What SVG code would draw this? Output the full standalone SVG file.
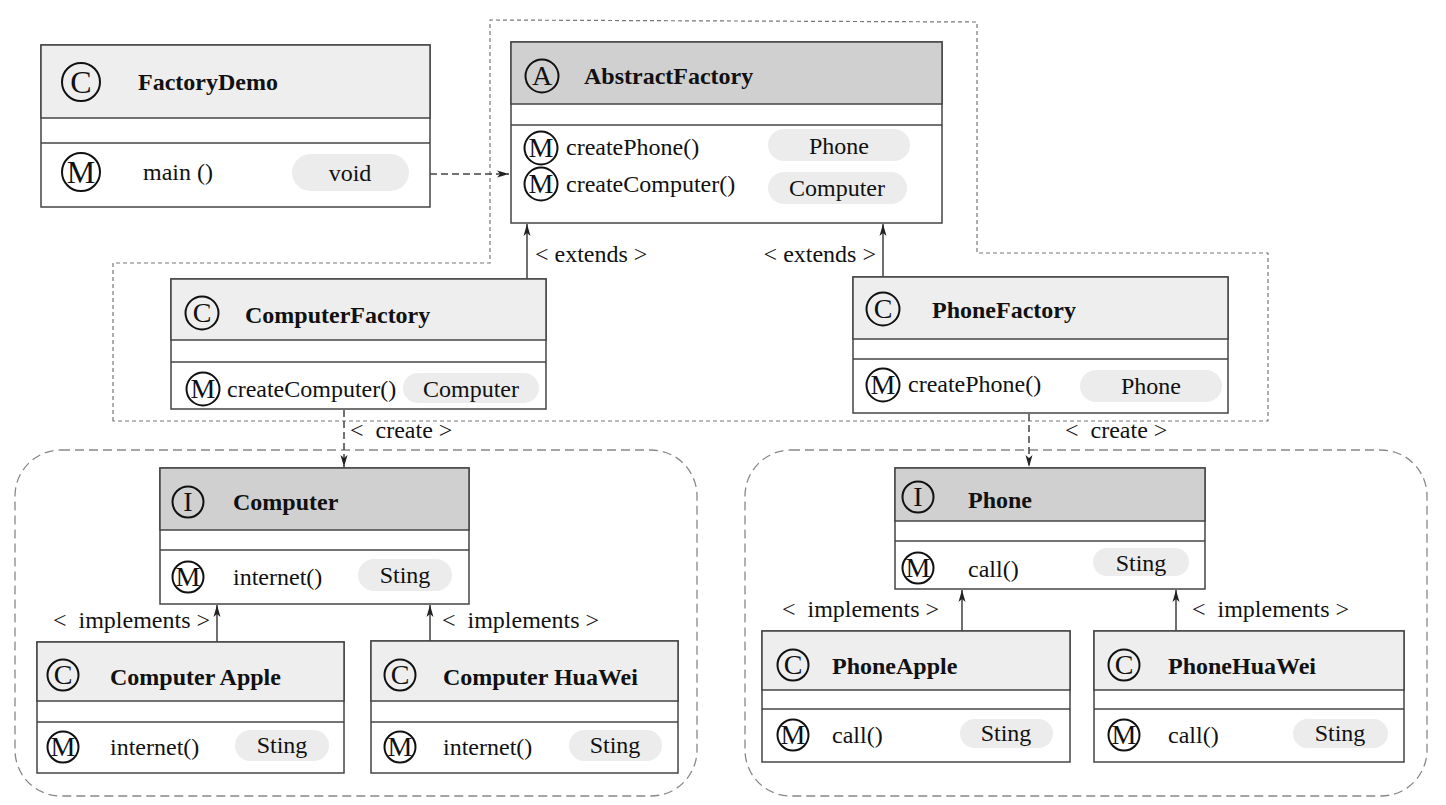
<svg xmlns="http://www.w3.org/2000/svg" width="1446" height="805" viewBox="0 0 1446 805">
<style>
text{font-family:"Liberation Serif","Times New Roman",serif;font-size:24px;fill:#111}
.t{font-weight:bold}
.c{text-anchor:middle}
.g{text-anchor:middle;font-size:28px}
.gb{text-anchor:middle;font-size:32px}
.lbl{white-space:pre}
.box{fill:#fff;stroke:#444;stroke-width:1.5}
.hl{fill:#eeeeee;stroke:#444;stroke-width:1.5}
.hd{fill:#d0d0d0;stroke:#444;stroke-width:1.5}
.sep{stroke:#444;stroke-width:1.5}
.ic{fill:none;stroke:#111;stroke-width:2}
.pill{fill:#ececec}
.grp{fill:none;stroke:#888;stroke-width:1.3;stroke-dasharray:9 5}
.dot{fill:none;stroke:#777;stroke-width:1.2;stroke-dasharray:4 3}
.sol{fill:none;stroke:#222;stroke-width:1.3}
.dsh{fill:none;stroke:#444;stroke-width:1.5;stroke-dasharray:7 4}
</style>
<defs>
<marker id="arr" viewBox="0 0 12 10" refX="12" refY="5" markerWidth="12" markerHeight="10" markerUnits="userSpaceOnUse" orient="auto">
<path d="M0,1.5 L12,5 L0,8.5 L3,5 z" fill="#222"/>
</marker>
</defs>
<g id="containers">
<path class="dot" d="M113,421 L113,263 L490,263 L490,20 L977,22 L977,253 L1268,253 L1268,421 Z"/>
<rect class="grp" x="15" y="450" width="682" height="346" rx="46"/>
<rect class="grp" x="745" y="450" width="682" height="346" rx="46"/>
</g>
<g id="connectors">
<path class="dsh" d="M430,174 L509,174" marker-end="url(#arr)"/>
<path class="sol" d="M527,279 L527,224" marker-end="url(#arr)"/>
<text x="535" y="262">&lt; extends &gt;</text>
<path class="sol" d="M883,277 L883,224" marker-end="url(#arr)"/>
<text x="876" y="262" text-anchor="end">&lt; extends &gt;</text>
<path class="dsh" d="M344,410 L344,467" marker-end="url(#arr)"/>
<text class="lbl" x="350" y="438">&lt;  create &gt;</text>
<path class="dsh" d="M1029,414 L1029,467" marker-end="url(#arr)"/>
<text class="lbl" x="1065" y="438">&lt;  create &gt;</text>
<path class="sol" d="M217,642 L217,605" marker-end="url(#arr)"/>
<text class="lbl" x="53" y="628">&lt;  implements &gt;</text>
<path class="sol" d="M430,641 L430,605" marker-end="url(#arr)"/>
<text class="lbl" x="442" y="628">&lt;  implements &gt;</text>
<path class="sol" d="M962,631 L962,590" marker-end="url(#arr)"/>
<text class="lbl" x="782" y="617">&lt;  implements &gt;</text>
<path class="sol" d="M1176,631 L1176,590" marker-end="url(#arr)"/>
<text class="lbl" x="1192" y="617">&lt;  implements &gt;</text>
</g>
<g id="FactoryDemo">
<rect class="box" x="41" y="45" width="389" height="162"/>
<rect class="hl" x="41" y="45" width="389" height="73"/>
<line class="sep" x1="41" y1="143" x2="430" y2="143"/>
<circle class="ic" cx="81" cy="82" r="19"/><text class="gb" x="81" y="93">C</text>
<text class="t" x="138" y="90">FactoryDemo</text>
<circle class="ic" cx="81" cy="172" r="19"/><text class="gb" x="81" y="183">M</text>
<text x="143" y="180">main ()</text>
<rect class="pill" x="292" y="154" width="117" height="37" rx="18.5"/>
<text class="c" x="350" y="181">void</text>
</g>
<g id="AbstractFactory">
<rect class="box" x="511" y="42" width="431" height="181"/>
<rect class="hd" x="511" y="42" width="431" height="62"/>
<line class="sep" x1="511" y1="125" x2="942" y2="125"/>
<circle class="ic" cx="542" cy="76" r="16.5"/><text class="g" x="542" y="85">A</text>
<text class="t" x="584" y="84">AbstractFactory</text>
<circle class="ic" cx="541" cy="148" r="16.5"/><text class="g" x="541" y="157">M</text>
<text x="566" y="155">createPhone()</text>
<rect class="pill" x="768" y="129" width="142" height="32" rx="16"/>
<text class="c" x="839" y="154">Phone</text>
<circle class="ic" cx="541" cy="184" r="16.5"/><text class="g" x="541" y="193">M</text>
<text x="566" y="192">createComputer()</text>
<rect class="pill" x="768" y="172" width="139" height="32" rx="16"/>
<text class="c" x="837" y="196">Computer</text>
</g>
<g id="ComputerFactory">
<rect class="box" x="171" y="279" width="375" height="130"/>
<rect class="hl" x="171" y="279" width="375" height="61"/>
<line class="sep" x1="171" y1="362" x2="546" y2="362"/>
<circle class="ic" cx="202" cy="313" r="16.5"/><text class="g" x="202" y="322">C</text>
<text class="t" x="245" y="323">ComputerFactory</text>
<circle class="ic" cx="203" cy="389" r="16.5"/><text class="g" x="203" y="398">M</text>
<text x="227" y="397">createComputer()</text>
<rect class="pill" x="403" y="373" width="136" height="30" rx="15"/>
<text class="c" x="471" y="397">Computer</text>
</g>
<g id="PhoneFactory">
<rect class="box" x="853" y="277" width="375" height="136"/>
<rect class="hl" x="853" y="277" width="375" height="62"/>
<line class="sep" x1="853" y1="359" x2="1228" y2="359"/>
<circle class="ic" cx="883" cy="309" r="16.5"/><text class="g" x="883" y="318">C</text>
<text class="t" x="932" y="318">PhoneFactory</text>
<circle class="ic" cx="883" cy="385" r="16.5"/><text class="g" x="883" y="394">M</text>
<text x="908" y="392">createPhone()</text>
<rect class="pill" x="1080" y="370" width="142" height="32" rx="16"/>
<text class="c" x="1151" y="394">Phone</text>
</g>
<g id="Computer">
<rect class="box" x="160" y="468" width="309" height="136"/>
<rect class="hd" x="160" y="468" width="309" height="62"/>
<line class="sep" x1="160" y1="550" x2="469" y2="550"/>
<circle class="ic" cx="188" cy="502" r="15.5"/><text class="g" x="188" y="511">I</text>
<text class="t" x="233" y="510">Computer</text>
<circle class="ic" cx="188" cy="577" r="15.5"/><text class="g" x="188" y="586">M</text>
<text x="233" y="585">internet()</text>
<rect class="pill" x="358" y="559" width="94" height="32" rx="16"/>
<text class="c" x="405" y="583">Sting</text>
</g>
<g id="ComputerApple">
<rect class="box" x="37" y="642" width="307" height="131"/>
<rect class="hl" x="37" y="642" width="307" height="59"/>
<line class="sep" x1="37" y1="722" x2="344" y2="722"/>
<circle class="ic" cx="63" cy="675" r="15.5"/><text class="g" x="63" y="684">C</text>
<text class="t" x="110" y="685">Computer Apple</text>
<circle class="ic" cx="63" cy="747" r="15.5"/><text class="g" x="63" y="756">M</text>
<text x="110" y="755">internet()</text>
<rect class="pill" x="235" y="730" width="94" height="31" rx="15.5"/>
<text class="c" x="282" y="753">Sting</text>
</g>
<g id="ComputerHuaWei">
<rect class="box" x="371" y="641" width="307" height="132"/>
<rect class="hl" x="371" y="641" width="307" height="60"/>
<line class="sep" x1="371" y1="722" x2="678" y2="722"/>
<circle class="ic" cx="400" cy="675" r="15.5"/><text class="g" x="400" y="684">C</text>
<text class="t" x="443" y="685">Computer HuaWei</text>
<circle class="ic" cx="400" cy="747" r="15.5"/><text class="g" x="400" y="756">M</text>
<text x="443" y="755">internet()</text>
<rect class="pill" x="569" y="730" width="93" height="31" rx="15.5"/>
<text class="c" x="615" y="753">Sting</text>
</g>
<g id="Phone">
<rect class="box" x="895" y="468" width="310" height="121"/>
<rect class="hd" x="895" y="468" width="310" height="53"/>
<line class="sep" x1="895" y1="541" x2="1205" y2="541"/>
<circle class="ic" cx="918" cy="497" r="15.5"/><text class="g" x="918" y="506">I</text>
<text class="t" x="968" y="508">Phone</text>
<circle class="ic" cx="918" cy="568" r="15.5"/><text class="g" x="918" y="577">M</text>
<text x="968" y="577">call()</text>
<rect class="pill" x="1093" y="548" width="96" height="28" rx="14"/>
<text class="c" x="1141" y="571">Sting</text>
</g>
<g id="PhoneApple">
<rect class="box" x="762" y="631" width="308" height="131"/>
<rect class="hl" x="762" y="631" width="308" height="59"/>
<line class="sep" x1="762" y1="709" x2="1070" y2="709"/>
<circle class="ic" cx="793" cy="665" r="15.5"/><text class="g" x="793" y="674">C</text>
<text class="t" x="832" y="674">PhoneApple</text>
<circle class="ic" cx="793" cy="735" r="15.5"/><text class="g" x="793" y="744">M</text>
<text x="832" y="743">call()</text>
<rect class="pill" x="960" y="719" width="93" height="29" rx="14.5"/>
<text class="c" x="1006" y="741">Sting</text>
</g>
<g id="PhoneHuaWei">
<rect class="box" x="1094" y="631" width="310" height="131"/>
<rect class="hl" x="1094" y="631" width="310" height="59"/>
<line class="sep" x1="1094" y1="709" x2="1404" y2="709"/>
<circle class="ic" cx="1124" cy="665" r="15.5"/><text class="g" x="1124" y="674">C</text>
<text class="t" x="1168" y="674">PhoneHuaWei</text>
<circle class="ic" cx="1124" cy="735" r="15.5"/><text class="g" x="1124" y="744">M</text>
<text x="1168" y="743">call()</text>
<rect class="pill" x="1293" y="719" width="95" height="29" rx="14.5"/>
<text class="c" x="1340" y="741">Sting</text>
</g>
</svg>
